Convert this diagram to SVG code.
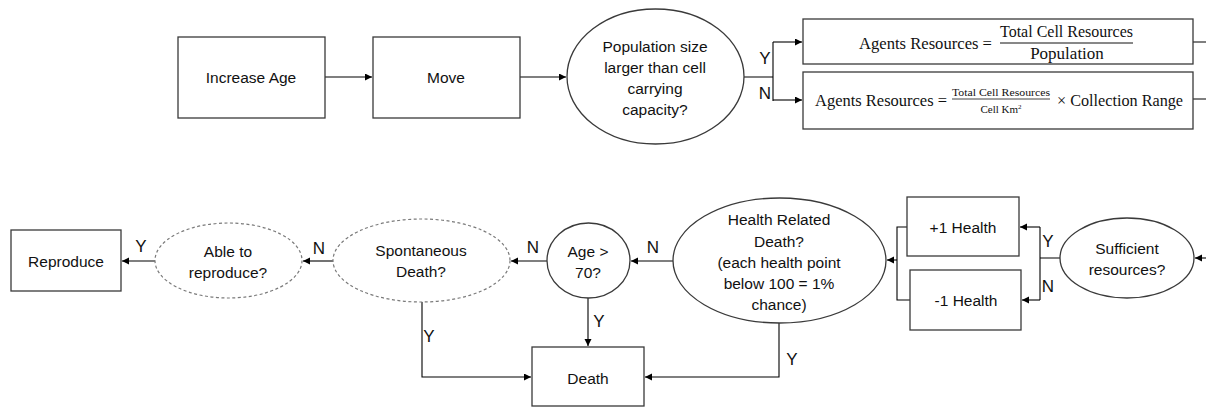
<svg xmlns="http://www.w3.org/2000/svg" width="1206" height="408" viewBox="0 0 1206 408">
<style>
.box{fill:#fff;stroke:#3a3a3a;stroke-width:1.3}
.dash{fill:#fff;stroke:#7a7a7a;stroke-width:1.2;stroke-dasharray:3 2.5}
.ln{fill:none;stroke:#000;stroke-width:1.1}
.t{font-family:"Liberation Sans",Arial,sans-serif;font-size:15.5px;fill:#111;text-anchor:middle;dominant-baseline:central}
.yn{font-size:17px}
.s{font-family:"Liberation Serif","Times New Roman",serif;fill:#111}
</style>
<defs>
<marker id="ah" markerUnits="userSpaceOnUse" markerWidth="8" markerHeight="8" refX="7" refY="3.5" orient="auto">
<path d="M0,0 L7,3.5 L0,7 z" fill="#000"/>
</marker>
</defs>
<g id="connectors">
<path class="ln" d="M325,77 L372,77" marker-end="url(#ah)"/>
<path class="ln" d="M520,77 L566,77" marker-end="url(#ah)"/>
<path class="ln" d="M744,77 L773,77 M773,42 L773,101"/>
<path class="ln" d="M773,42 L802,42" marker-end="url(#ah)"/>
<path class="ln" d="M773,100 L802,100" marker-end="url(#ah)"/>
<path class="ln" d="M1193,42 L1206,42 M1193,99 L1206,99"/>
<path class="ln" d="M1206,258 L1195,258" marker-end="url(#ah)"/>
<path class="ln" d="M1060,258 L1040,258 M1040,227 L1040,300"/>
<path class="ln" d="M1040,227 L1020,227" marker-end="url(#ah)"/>
<path class="ln" d="M1040,300 L1022,300" marker-end="url(#ah)"/>
<path class="ln" d="M907,227 L897,227 L897,300 L910,300"/>
<path class="ln" d="M897,260 L887,260" marker-end="url(#ah)"/>
<path class="ln" d="M673,261 L631,261" marker-end="url(#ah)"/>
<path class="ln" d="M779,323 L779,377 L645,377" marker-end="url(#ah)"/>
<path class="ln" d="M588,298 L588,346" marker-end="url(#ah)"/>
<path class="ln" d="M547,261 L511,261" marker-end="url(#ah)"/>
<path class="ln" d="M422,302 L422,377 L531,377" marker-end="url(#ah)"/>
<path class="ln" d="M333,261 L303,261" marker-end="url(#ah)"/>
<path class="ln" d="M155,261 L122,261" marker-end="url(#ah)"/>
<g class="t yn">
<text x="765" y="58">Y</text>
<text x="765" y="93">N</text>
<text x="1048" y="241">Y</text>
<text x="1048" y="286">N</text>
<text x="653" y="247">N</text>
<text x="792" y="359">Y</text>
<text x="599" y="321">Y</text>
<text x="533" y="247">N</text>
<text x="429" y="336">Y</text>
<text x="319" y="248">N</text>
<text x="141" y="246">Y</text>
</g>
</g>
<g id="increase-age">
<rect class="box" x="178" y="37" width="147" height="81"/>
<text class="t" x="251" y="77">Increase  Age</text>
</g>
<g id="move">
<rect class="box" x="373" y="37" width="147" height="81"/>
<text class="t" x="446" y="77">Move</text>
</g>
<g id="population-decision">
<ellipse class="box" cx="655.5" cy="76.5" rx="88.5" ry="67.5"/>
<text class="t" x="655" y="46">Population size</text>
<text class="t" x="655" y="67">larger than cell</text>
<text class="t" x="655" y="88">carrying</text>
<text class="t" x="655" y="109">capacity?</text>
</g>
<g id="resources-y">
<rect class="box" x="803" y="19" width="390" height="45"/>
<text class="s" x="859" y="49" font-size="17" textLength="133" lengthAdjust="spacingAndGlyphs">Agents Resources =</text>
<text class="s" x="1000" y="37" font-size="16" textLength="133" lengthAdjust="spacingAndGlyphs">Total Cell Resources</text>
<line x1="1000" y1="43" x2="1133" y2="43" stroke="#111" stroke-width="1"/>
<text class="s" x="1067" y="59" font-size="17" text-anchor="middle">Population</text>
</g>
<g id="resources-n">
<rect class="box" x="803" y="72" width="390" height="57"/>
<text class="s" x="815" y="106" font-size="17" textLength="132" lengthAdjust="spacingAndGlyphs">Agents Resources =</text>
<text class="s" x="952" y="96" font-size="11" textLength="98" lengthAdjust="spacingAndGlyphs">Total Cell Resources</text>
<line x1="952" y1="99" x2="1050" y2="99" stroke="#111" stroke-width="0.8"/>
<text class="s" x="1001" y="113" font-size="11" text-anchor="middle">Cell Km<tspan font-size="7" dy="-4">2</tspan></text>
<text class="s" x="1057" y="106" font-size="17" textLength="126" lengthAdjust="spacingAndGlyphs">× Collection Range</text>
</g>
<g id="sufficient-resources">
<ellipse class="box" cx="1127" cy="258" rx="67" ry="40"/>
<text class="t" x="1127" y="248">Sufficient</text>
<text class="t" x="1127" y="269">resources?</text>
</g>
<g id="plus-health">
<rect class="box" x="907" y="197" width="112" height="59"/>
<text class="t" x="963" y="227">+1 Health</text>
</g>
<g id="minus-health">
<rect class="box" x="910" y="270" width="111" height="60"/>
<text class="t" x="966" y="300">-1 Health</text>
</g>
<g id="health-death">
<ellipse class="box" cx="779.5" cy="260.5" rx="106.5" ry="62.5"/>
<text class="t" x="779" y="219">Health Related</text>
<text class="t" x="779" y="241">Death?</text>
<text class="t" x="779" y="262">(each health point</text>
<text class="t" x="779" y="283">below 100 = 1%</text>
<text class="t" x="779" y="304">chance)</text>
</g>
<g id="age-decision">
<ellipse class="box" cx="588.5" cy="260.5" rx="41.5" ry="37.5"/>
<text class="t" x="588" y="251">Age &gt;</text>
<text class="t" x="588" y="272">70?</text>
</g>
<g id="death">
<rect class="box" x="532" y="347" width="112" height="59"/>
<text class="t" x="588" y="378">Death</text>
</g>
<g id="spontaneous-death">
<ellipse class="dash" cx="421.5" cy="260.5" rx="88.5" ry="41.5"/>
<text class="t" x="421" y="250">Spontaneous</text>
<text class="t" x="421" y="271">Death?</text>
</g>
<g id="able-to-reproduce">
<ellipse class="dash" cx="228.5" cy="260.5" rx="73.5" ry="37.5"/>
<text class="t" x="228" y="251">Able to</text>
<text class="t" x="228" y="272">reproduce?</text>
</g>
<g id="reproduce">
<rect class="box" x="11" y="230" width="110" height="61"/>
<text class="t" x="66" y="261">Reproduce</text>
</g>
</svg>
